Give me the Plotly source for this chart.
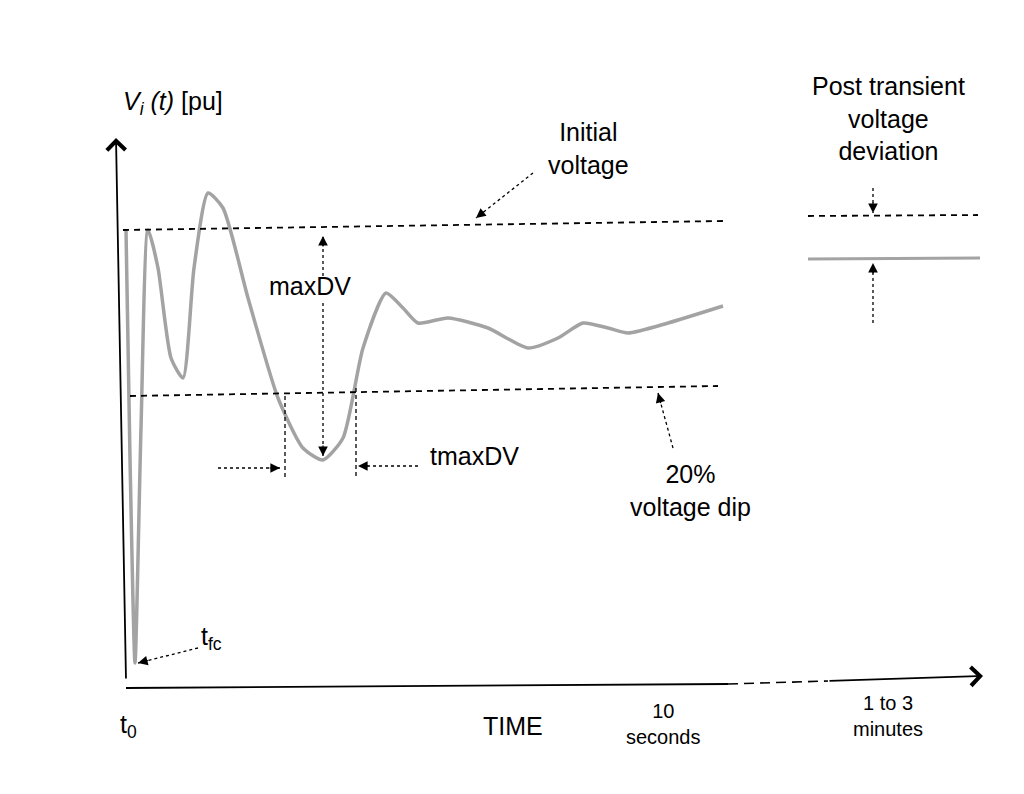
import plotly.graph_objects as go

# voltage curve, drawn in page-pixel coordinates of the sketch
curve_x = [118, 122, 127, 133, 140, 150, 163, 175, 186, 200, 215, 240, 270, 295, 315, 335, 355, 378, 395, 410, 440, 480, 520, 550, 575, 600, 620, 660, 715]
curve_y = [222, 450, 655, 420, 222, 260, 350, 370, 260, 185, 200, 290, 390, 440, 452, 430, 340, 285, 300, 315, 310, 320, 340, 330, 315, 320, 325, 315, 298]

# reference levels
init_x, init_y = [115, 715], [222, 213]
dip_x, dip_y = [122, 710], [388, 378]
post_dash_x, post_dash_y = [800, 970], [208, 207]
post_solid_x, post_solid_y = [800, 972], [251, 250]

FONT = "Liberation Sans, Arial, sans-serif"
fig = go.Figure()

fig.add_trace(go.Scatter(x=curve_x, y=curve_y, mode="lines", line=dict(color="#a3a3a3", width=3.5, shape="spline", smoothing=0.6)))
for xs, ys in [(init_x, init_y), (dip_x, dip_y), (post_dash_x, post_dash_y)]:
    fig.add_trace(go.Scatter(x=xs, y=ys, mode="lines", line=dict(color="black", width=1.8, dash="6px,5px")))
fig.add_trace(go.Scatter(x=post_solid_x, y=post_solid_y, mode="lines", line=dict(color="#a3a3a3", width=3)))

# vertical dashed markers for tmaxDV
for xv, y0 in [(277, 388), (348, 380)]:
    fig.add_trace(go.Scatter(x=[xv, xv], y=[y0, 470], mode="lines", line=dict(color="black", width=1.3, dash="4px,3px")))


def dotted_arrow(x0, y0, x1, y1):
    fig.add_trace(go.Scatter(x=[x0, x1], y=[y0, y1], mode="lines", line=dict(color="black", width=1.3, dash="3px,3px")))
    dx, dy = x1 - x0, y1 - y0
    n = (dx * dx + dy * dy) ** 0.5
    fig.add_annotation(x=x1, y=y1, ax=x1 - dx / n * 12, ay=y1 - dy / n * 12, xref="x", yref="y", axref="x", ayref="y",
                       showarrow=True, arrowhead=2, arrowsize=1.6, arrowwidth=1.2, arrowcolor="black", text="")


dotted_arrow(525, 165, 468, 210)
dotted_arrow(315, 268, 315, 228)
dotted_arrow(315, 295, 315, 448)
dotted_arrow(190, 640, 130, 655)
dotted_arrow(665, 440, 650, 385)
dotted_arrow(865, 180, 865, 205)
dotted_arrow(865, 315, 865, 255)
dotted_arrow(410, 458, 350, 458)
dotted_arrow(210, 460, 272, 460)

# axes
fig.add_annotation(x=108, y=130, ax=118, ay=672, xref="x", yref="y", axref="x", ayref="y",
                   showarrow=True, arrowhead=4, arrowsize=2, arrowwidth=1.8, arrowcolor="black", text="")
fig.add_trace(go.Scatter(x=[118, 720], y=[680, 676], mode="lines", line=dict(color="black", width=1.8)))
fig.add_trace(go.Scatter(x=[720, 820], y=[676, 673], mode="lines", line=dict(color="black", width=1.6, dash="10px,6px")))
fig.add_annotation(x=975, y=668, ax=820, ay=673, xref="x", yref="y", axref="x", ayref="y",
                   showarrow=True, arrowhead=4, arrowsize=2, arrowwidth=1.8, arrowcolor="black", text="")

labels = [
    (165, 95, "<i>V<sub>i</sub> (t)</i> [pu]"),
    (580, 140, "Initial<br>voltage"),
    (880, 110, "Post transient<br>voltage<br>deviation"),
    (302, 278, "maxDV"),
    (466, 448, "tmaxDV"),
    (682, 482, "20%<br>voltage dip"),
    (203, 630, "t<sub>fc</sub>"),
    (120, 718, "t<sub>0</sub>"),
    (505, 718, "TIME"),
]
for x, y, t in labels:
    fig.add_annotation(x=x, y=y, text=t, showarrow=False, xref="x", yref="y",
                       font=dict(family=FONT, size=25, color="black"))
for x, y, t in [(655, 716, "10<br>seconds"), (880, 708, "1 to 3<br>minutes")]:
    fig.add_annotation(x=x, y=y, text=t, showarrow=False, xref="x", yref="y",
                       font=dict(family=FONT, size=20, color="black"))

fig.update_xaxes(range=[0, 1024], visible=False)
fig.update_yaxes(range=[794, 0], visible=False)
fig.update_layout(width=1024, height=794, margin=dict(l=0, r=0, t=0, b=0), showlegend=False,
                  plot_bgcolor="white", paper_bgcolor="white")
fig.write_html("out.html")
